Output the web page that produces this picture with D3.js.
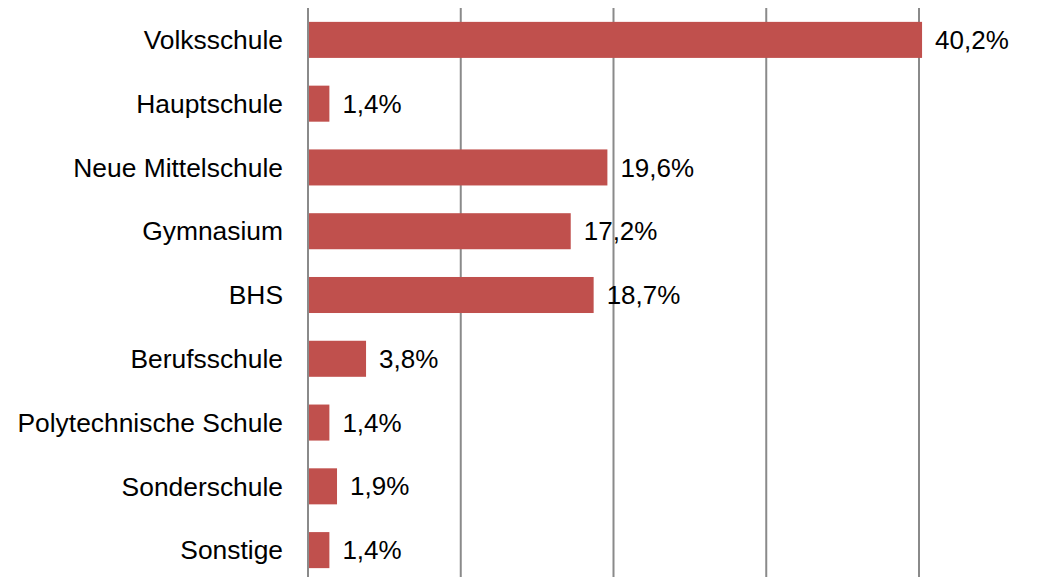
<!DOCTYPE html>
<html>
<head>
<meta charset="utf-8">
<script src="https://cdn.jsdelivr.net/npm/d3@7"></script>
<style>
    body { margin: 0; background: #fff; }
    text { font-family: "Liberation Sans", Arial, sans-serif; fill: #000; }
</style>
</head>
<body>
<svg id="chart"></svg>
<script>
// data
const categories = ['Volksschule', 'Hauptschule', 'Neue Mittelschule', 'Gymnasium', 'BHS',
    'Berufsschule', 'Polytechnische Schule', 'Sonderschule', 'Sonstige'];
const shares = [40.2, 1.4, 19.6, 17.2, 18.7, 3.8, 1.4, 1.9, 1.4];
const xTicks = [0, 10, 20, 30, 40];

const width = 1056, height = 577;
const margin = { top: 8, left: 308, right: 137, bottom: -5 };

let svg = d3.select('#chart').attr('width', width).attr('height', height);

let x = d3.scaleLinear()
    .domain([0, 40])
    .range([margin.left, width - margin.right]);
let y = d3.scaleBand()
    .domain(categories)
    .range([margin.top, height - margin.bottom])
    .paddingInner(0.435)
    .paddingOuter(0.2175);

// vertical gridlines (incl. the axis at 0)
svg.append('g')
    .selectAll('line')
    .data(xTicks)
    .join('line')
    .attr('x1', d => x(d)).attr('x2', d => x(d))
    .attr('y1', margin.top).attr('y2', height)
    .attr('stroke', '#8a8a8a')
    .attr('stroke-width', 2);

// category labels
svg.append('g')
    .selectAll('text')
    .data(categories)
    .join('text')
    .attr('x', margin.left - 25)
    .attr('y', d => y(d) + y.bandwidth() / 2)
    .attr('dy', '0.35em')
    .attr('text-anchor', 'end')
    .style('font-size', '26.4px')
    .text(d => d);

// bars
svg.append('g')
    .selectAll('rect')
    .data(shares)
    .join('rect')
    .attr('x', x(0) + 1)
    .attr('y', (d, i) => y(categories[i]))
    .attr('width', d => x(d) - x(0) - 1)
    .attr('height', y.bandwidth())
    .attr('fill', '#c0504d');

// value labels
svg.append('g')
    .selectAll('text')
    .data(shares)
    .join('text')
    .attr('x', d => x(d) + 13)
    .attr('y', (d, i) => y(categories[i]) + y.bandwidth() / 2)
    .attr('dy', '0.35em')
    .style('font-size', '26px')
    .text(d => d.toFixed(1).replace('.', ',') + '%');
</script>
</body>
</html>
